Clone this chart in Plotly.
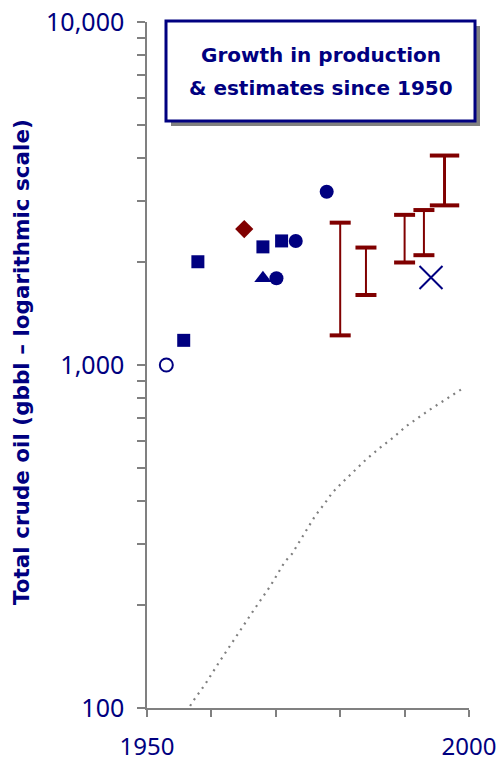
import plotly.graph_objects as go

NAVY = "#000080"
RED = "#800000"
GREY = "#808080"

# ---------------- data ----------------
open_circle_years = [1953]
open_circle_values = [1000]

square_years = [1955.7, 1957.9, 1968, 1970.9]
square_values = [1180, 2000, 2210, 2300]

circle_years = [1970.1, 1973.1, 1977.9]
circle_values = [1790, 2300, 3200]

triangle_years = [1968]
triangle_values = [1790]

diamond_years = [1965.1]
diamond_values = [2490]

cross_years = [1994.1]
cross_values = [1800]

est_years = [1980, 1984, 1990, 1993, 1996.2]
est_low = [1220, 1600, 1990, 2090, 2920]
est_high = [2600, 2200, 2740, 2830, 4080]

cum_years = [1955.4, 1956.5, 1957.2, 1959.0, 1961.2, 1963.9, 1965.5, 1966.5, 1969.1,
             1971.4, 1972.5, 1974.6, 1976.1, 1977.6, 1978.8, 1980.2, 1982.8, 1984.1,
             1986.2, 1988.2, 1990.3, 1991.5, 1993.1, 1994.2, 1998.8]
cum_values = [94, 100, 105, 117, 136, 162, 181, 192, 226,
              267, 281, 325, 363, 395, 425, 452, 503, 532,
              574, 614, 664, 687, 723, 747, 849]

y_tickvals = [100, 200, 300, 400, 500, 600, 700, 800, 900,
              1000, 2000, 3000, 4000, 5000, 6000, 7000, 8000, 9000, 10000]
y_ticktext = ["100"] + [""] * 8 + ["1,000"] + [""] * 8 + ["10,000"]
x_tickvals = [1950, 1960, 1970, 1980, 1990, 2000]
x_ticktext = ["1950", "", "", "", "", "2000"]

title_lines = ["Growth in production", "&amp; estimates since 1950"]
y_title = "Total crude oil (gbbl \u2013 logarithmic scale)"

# ---------------- figure ----------------
fig = go.Figure()

# cumulative production (dotted)
fig.add_trace(go.Scatter(x=cum_years, y=cum_values, mode="lines",
                         line=dict(color=GREY, width=2.2, dash="2px,5px"),
                         hoverinfo="skip"))

# estimate ranges
stem_widths = [2, 2, 2, 2, 3]
cap_sizes = [15, 15, 15, 15, 21]
for i in range(len(est_years)):
    fig.add_trace(go.Scatter(x=[est_years[i], est_years[i]], y=[est_low[i], est_high[i]],
                             mode="lines", line=dict(color=RED, width=stem_widths[i])))
    fig.add_trace(go.Scatter(x=[est_years[i], est_years[i]], y=[est_low[i], est_high[i]],
                             mode="markers",
                             marker=dict(symbol="line-ew", size=cap_sizes[i],
                                         line=dict(color=RED, width=4))))

fig.add_trace(go.Scatter(x=open_circle_years, y=open_circle_values, mode="markers",
                         marker=dict(symbol="circle-open", size=13, color=NAVY,
                                     line=dict(color=NAVY, width=2))))
fig.add_trace(go.Scatter(x=square_years, y=square_values, mode="markers",
                         marker=dict(symbol="square", size=13, color=NAVY)))
fig.add_trace(go.Scatter(x=circle_years, y=circle_values, mode="markers",
                         marker=dict(symbol="circle", size=14, color=NAVY)))
fig.add_trace(go.Scatter(x=triangle_years, y=triangle_values, mode="markers",
                         marker=dict(symbol="triangle-up", size=15, color=NAVY)))
fig.add_trace(go.Scatter(x=diamond_years, y=diamond_values, mode="markers",
                         marker=dict(symbol="diamond", size=14, color=RED)))
fig.add_trace(go.Scatter(x=cross_years, y=cross_values, mode="markers",
                         marker=dict(symbol="x-thin-open", size=23, color=NAVY,
                                     line=dict(color=NAVY, width=2))))

L, R, T, B = 147, 31, 22, 55
W, H = 500, 763
pw, ph = W - L - R, H - T - B


def px(xp):
    return (xp - L) / pw


def py(yp):
    return (H - B - yp) / ph


# title box with shadow
fig.add_shape(type="rect", xref="paper", yref="paper",
              x0=px(171), x1=px(480), y0=py(126), y1=py(26),
              fillcolor=GREY, line=dict(width=0), layer="above")
fig.add_shape(type="rect", xref="paper", yref="paper",
              x0=px(166), x1=px(475), y0=py(121), y1=py(21),
              fillcolor="white", line=dict(color=NAVY, width=3), layer="above")
for line_text, line_y in zip(title_lines, [55, 88]):
    fig.add_annotation(xref="paper", yref="paper", x=px(320.5), y=py(line_y),
                       text="<b>" + line_text + "</b>",
                       showarrow=False, xanchor="center", yanchor="middle",
                       font=dict(family="DejaVu Sans", size=20, color=NAVY))

fig.add_annotation(xref="paper", yref="paper", x=px(21), y=py(362),
                   text="<b>" + y_title + "</b>", textangle=-90,
                   showarrow=False, xanchor="center", yanchor="middle",
                   font=dict(family="DejaVu Sans", size=21.5, color=NAVY))

fig.update_layout(
    template="none",
    width=W, height=H,
    margin=dict(l=L, r=R, t=T, b=B, pad=0),
    paper_bgcolor="white", plot_bgcolor="white",
    showlegend=False,
    font=dict(family="Noto Sans", color=NAVY),
)
fig.update_xaxes(range=[1950, 2000], tickvals=x_tickvals, ticktext=x_ticktext,
                 showgrid=False, zeroline=False, showline=True, linecolor=GREY,
                 linewidth=1.5, ticks="outside", ticklen=7, tickcolor=GREY,
                 tickwidth=1.5, ticklabelstandoff=9, automargin=False,
                 tickfont=dict(family="Noto Sans", size=24, color=NAVY))
fig.update_yaxes(type="log", range=[2, 4], tickvals=y_tickvals, ticktext=y_ticktext,
                 showgrid=False, zeroline=False, showline=True, linecolor=GREY,
                 linewidth=1.5, ticks="outside", ticklen=8, tickcolor=GREY,
                 tickwidth=1.5, ticklabelstandoff=8, automargin=False,
                 tickfont=dict(family="Noto Sans", size=25, color=NAVY))

fig.write_html("out.html")
